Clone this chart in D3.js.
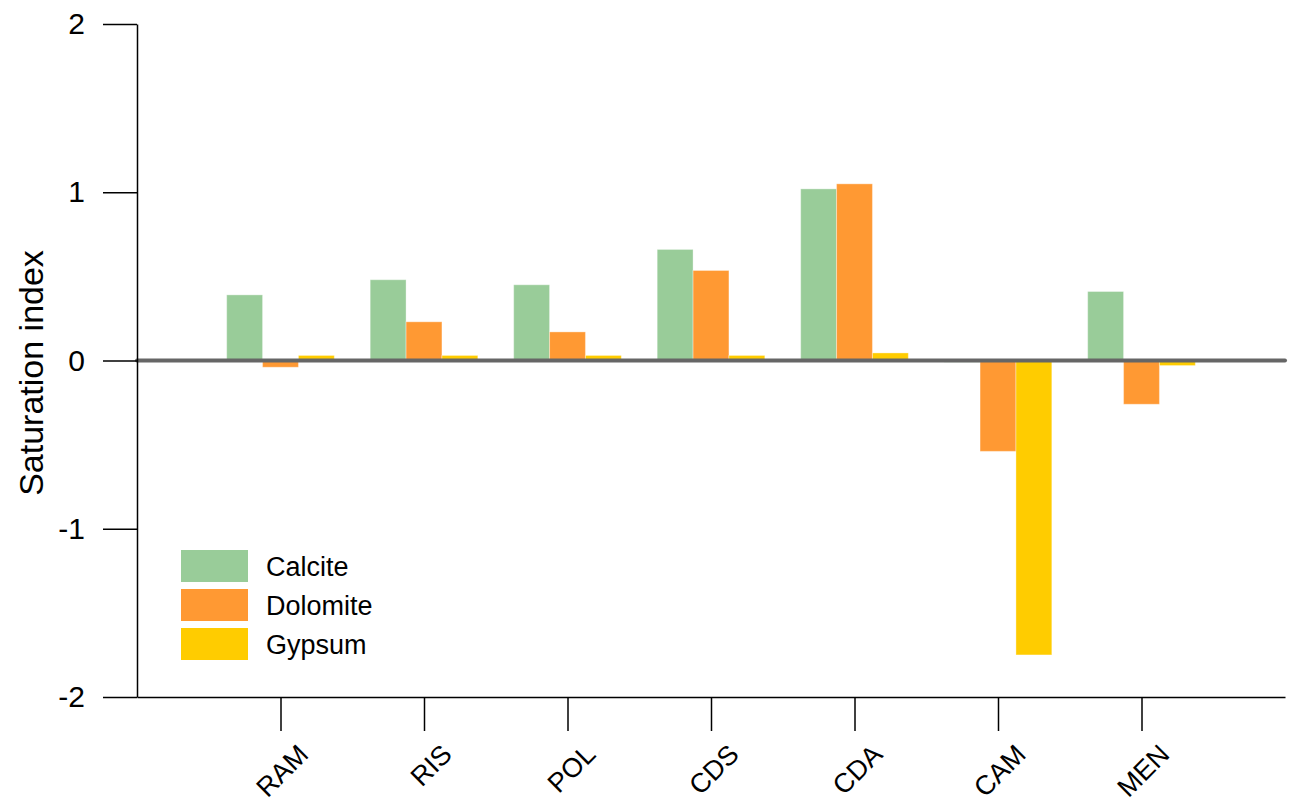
<!DOCTYPE html>
<html>
<head>
<meta charset="utf-8">
<script src="https://cdn.jsdelivr.net/npm/d3@7"></script>
<style>
  body { margin: 0; background: #fff; }
  text { font-family: "Liberation Sans", Arial, sans-serif; fill: #000; }
</style>
</head>
<body>
<svg id="chart"></svg>
<script>
const sites = ['RAM', 'RIS', 'POL', 'CDS', 'CDA', 'CAM', 'MEN'];
const minerals = ['Calcite', 'Dolomite', 'Gypsum'];
const calcite  = [0.39, 0.48, 0.45, 0.66, 1.02, -0.01, 0.41];
const dolomite = [-0.04, 0.23, 0.17, 0.535, 1.05, -0.54, -0.26];
const gypsum   = [0.03, 0.03, 0.03, 0.03, 0.045, -1.75, -0.03];
const yTicks = [-2, -1, 0, 1, 2];
const colors = ['#99cc99', '#ff9933', '#ffcc00'];

const series = [calcite, dolomite, gypsum];

const width = 1295, height = 807;
const margin = {top: 24, right: 10, bottom: 110, left: 137};

const svg = d3.select('#chart')
    .attr('width', width)
    .attr('height', height);

// categories sit on integer positions 1..7, axis runs 0..8
const x = d3.scaleLinear()
    .domain([0, sites.length + 1])
    .range([margin.left, margin.left + 1148]);

const y = d3.scaleLinear()
    .domain([-2, 2])
    .range([697, 24]);

const step = x(1) - x(0);
const barW = step * 0.25;

// bars
series.forEach((vals, si) => {
    svg.append('g')
        .selectAll('rect')
        .data(vals)
        .join('rect')
        .attr('x', (d, i) => x(i + 1) + (si - 1.5) * barW)
        .attr('y', d => y(Math.max(0, d)))
        .attr('width', barW)
        .attr('height', d => Math.abs(y(d) - y(0)))
        .attr('fill', colors[si])
        .attr('stroke', '#fff')
        .attr('stroke-opacity', 0.35)
        .attr('stroke-width', 1);
});

// zero line
svg.append('line')
    .attr('x1', x(0))
    .attr('x2', x(sites.length + 1))
    .attr('y1', y(0))
    .attr('y2', y(0))
    .attr('stroke', '#666')
    .attr('stroke-width', 4)
    .attr('stroke-linecap', 'round');

// y axis
const yAxis = d3.axisLeft(y)
    .tickValues(yTicks)
    .tickFormat(d => String(d))
    .tickSize(34)
    .tickPadding(18)
    .tickSizeOuter(0);

const yAxisG = svg.append('g')
    .attr('transform', `translate(${margin.left},0)`)
    .call(yAxis);
yAxisG.select('.domain').attr('stroke-width', 1.5);
yAxisG.selectAll('.tick line').attr('stroke-width', 1.5);
yAxisG.selectAll('.tick text')
    .style('font-size', '30px')
    .attr('font-family', '"Liberation Sans", Arial, sans-serif');

// x axis
const xAxis = d3.axisBottom(x)
    .tickValues(d3.range(1, sites.length + 1))
    .tickFormat(d => sites[d - 1])
    .tickSize(34)
    .tickSizeOuter(0);

const xAxisG = svg.append('g')
    .attr('transform', `translate(0,${y(-2)})`)
    .call(xAxis);
xAxisG.select('.domain').attr('stroke-width', 1.5);
xAxisG.selectAll('.tick line').attr('stroke-width', 1.5);
xAxisG.selectAll('.tick text')
    .style('font-size', '27px')
    .attr('font-family', '"Liberation Sans", Arial, sans-serif')
    .attr('text-anchor', 'end')
    .attr('y', 0)
    .attr('dy', 0)
    .attr('transform', 'translate(29,59) rotate(-45)');

// y label
svg.append('text')
    .attr('transform', 'rotate(-90)')
    .attr('x', -373)
    .attr('y', 43)
    .attr('text-anchor', 'middle')
    .style('font-size', '34px')
    .text('Saturation index');

// legend
const legend = svg.append('g')
    .attr('transform', 'translate(181,550)');

minerals.forEach((m, i) => {
    legend.append('rect')
        .attr('x', 0)
        .attr('y', i * 39)
        .attr('width', 67)
        .attr('height', 32)
        .attr('fill', colors[i]);
    legend.append('text')
        .attr('x', 85)
        .attr('y', i * 39 + 26)
        .style('font-size', '27px')
        .text(m);
});
</script>
</body>
</html>
